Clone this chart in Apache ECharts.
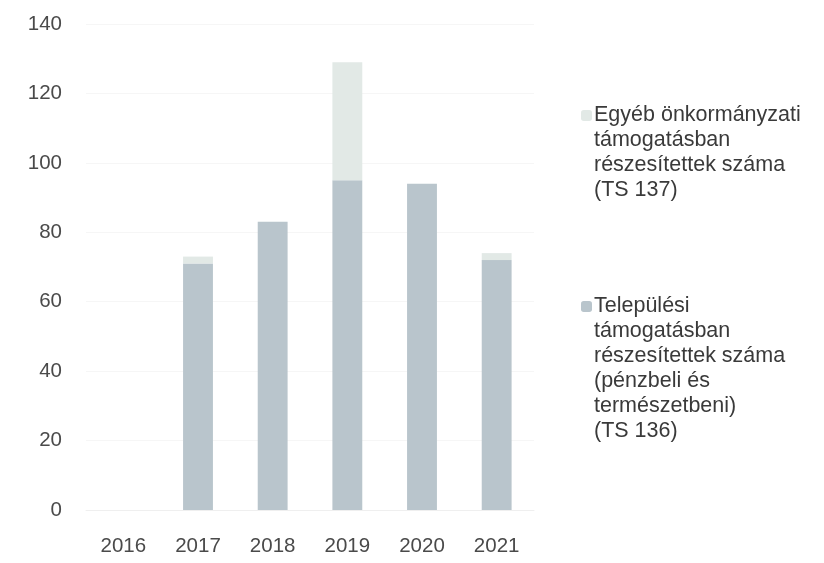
<!DOCTYPE html>
<html>
<head>
<meta charset="utf-8">
<script src="https://cdn.jsdelivr.net/npm/echarts@6/dist/echarts.min.js"></script>
<style>
html,body{margin:0;padding:0;background:#fff;}
#c{width:824px;height:563px;}
</style>
</head>
<body>
<div id="c"></div>
<script>
const years = ['2016','2017','2018','2019','2020','2021'];
const telepulesi = [0, 71, 83, 95, 94, 72];
const egyeb = [0, 2, 0, 34, 0, 2];
const yTicks = [0, 20, 40, 60, 80, 100, 120, 140];
const nameEgyeb = 'Egyéb önkormányzati\ntámogatásban\nrészesítettek száma\n(TS 137)';
const nameTelep = 'Települési\ntámogatásban\nrészesítettek száma\n(pénzbeli és\ntermészetbeni)\n(TS 136)';

const FONT = 'Liberation Sans';
const chart = echarts.init(document.getElementById('c'), null, {renderer:'canvas'});

function padLines(name){
  const n = name.split('\n').length;
  return '\n'.repeat(n-1) + name;
}

chart.setOption({
  animation:false,
  backgroundColor:'#ffffff',
  grid:{left:86, right:290, top:24, bottom:53, containLabel:false},
  xAxis:{
    type:'category',
    data:years,
    axisLine:{show:true, lineStyle:{color:'#efefef', width:1}},
    axisTick:{show:false},
    axisLabel:{color:'#4a4a4a', fontFamily:FONT, fontSize:20.5, margin:26}
  },
  yAxis:{
    type:'value',
    min:yTicks[0], max:yTicks[yTicks.length-1], interval:20,
    axisLine:{show:false},
    axisTick:{show:false},
    splitLine:{show:true, lineStyle:{color:'#f6f6f6', width:1}},
    axisLabel:{color:'#4a4a4a', fontFamily:FONT, fontSize:20.5, margin:24}
  },
  legend:[
    {
      data:[nameEgyeb],
      orient:'vertical',
      left:576, top:23,
      itemWidth:11, itemHeight:11,
      itemGap:0,
      formatter:padLines,
      textStyle:{color:'#3a3a3a', fontFamily:FONT, fontSize:21.5, lineHeight:25, padding:[0,0,0,-3]},
      selectedMode:false
    },
    {
      data:[nameTelep],
      orient:'vertical',
      left:576, top:164,
      itemWidth:11, itemHeight:11,
      itemGap:0,
      formatter:padLines,
      textStyle:{color:'#3a3a3a', fontFamily:FONT, fontSize:21.5, lineHeight:25, padding:[0,0,0,-3]},
      selectedMode:false
    }
  ],
  series:[
    {
      name:nameTelep,
      type:'bar',
      stack:'s',
      barWidth:'40%',
      data:telepulesi,
      itemStyle:{color:'#b9c5cc'}
    },
    {
      name:nameEgyeb,
      type:'bar',
      stack:'s',
      barWidth:'40%',
      data:egyeb,
      itemStyle:{color:'#e2e9e6'}
    }
  ]
});
</script>
</body>
</html>
